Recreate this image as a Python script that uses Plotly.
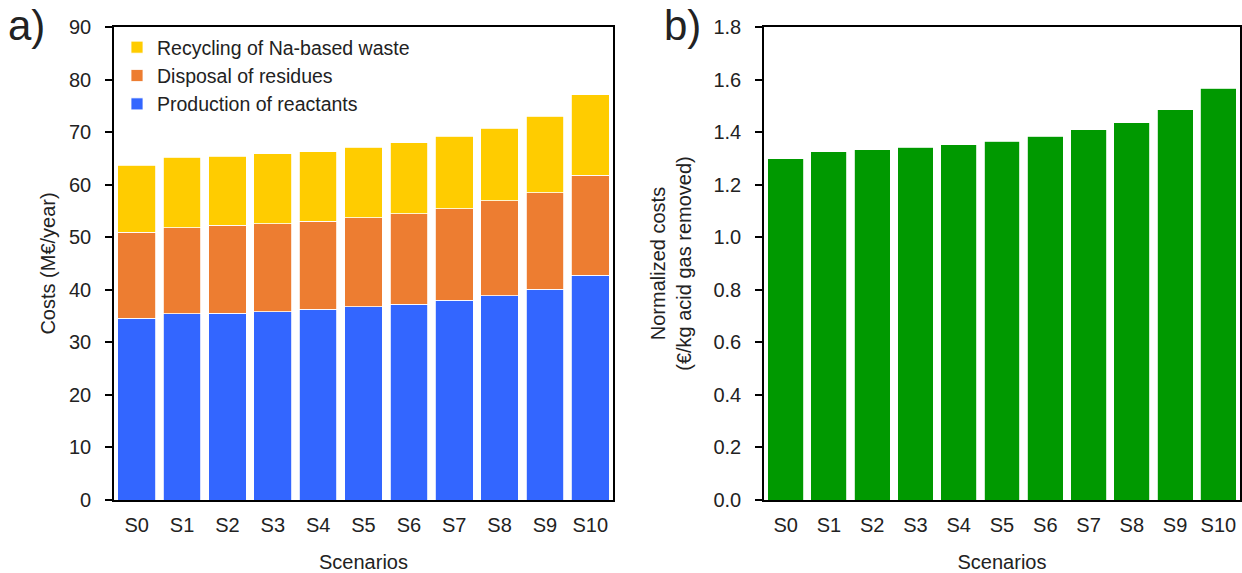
import plotly.graph_objects as go

scenarios = ["S0", "S1", "S2", "S3", "S4", "S5", "S6", "S7", "S8", "S9", "S10"]
# cumulative tops (M€/year)
production_top = [34.6, 35.4, 35.5, 35.8, 36.3, 36.8, 37.2, 38.0, 38.9, 40.1, 42.8]
disposal_top = [50.9, 51.8, 52.3, 52.6, 53.0, 53.7, 54.5, 55.4, 56.9, 58.5, 61.8]
total_top = [63.7, 65.2, 65.4, 65.9, 66.3, 67.1, 68.0, 69.2, 70.7, 73.0, 77.1]
production = production_top
disposal = [round(d - p, 2) for d, p in zip(disposal_top, production_top)]
recycling = [round(t - d, 2) for t, d in zip(total_top, disposal_top)]
normalized = [1.298, 1.326, 1.332, 1.342, 1.351, 1.365, 1.385, 1.409, 1.436, 1.485, 1.566]

FONT = "Liberation Sans, Arial, sans-serif"
W, H = 1242, 573

def px(x):
    return x / W

def py(y):
    return 1 - y / H

fig = go.Figure()
line = dict(color="white", width=0.8)
fig.add_trace(go.Bar(x=scenarios, y=production, name="Production of reactants",
                     marker=dict(color="#3366FF", line=line), xaxis="x", yaxis="y"))
fig.add_trace(go.Bar(x=scenarios, y=disposal, name="Disposal of residues",
                     marker=dict(color="#ED7D31", line=line), xaxis="x", yaxis="y"))
fig.add_trace(go.Bar(x=scenarios, y=recycling, name="Recycling of Na-based waste",
                     marker=dict(color="#FFCC00", line=line), xaxis="x", yaxis="y"))
fig.add_trace(go.Bar(x=scenarios, y=normalized, name="Normalized", showlegend=False,
                     marker=dict(color="#009900", line=line), xaxis="x2", yaxis="y2"))

axis_common = dict(showline=True, linecolor="black", linewidth=1.6, mirror=True,
                   showgrid=False, zeroline=False, automargin=False,
                   tickfont=dict(family=FONT, size=20, color="#222"))

fig.update_layout(
    width=W, height=H,
    margin=dict(l=0, r=0, t=0, b=0, pad=0),
    paper_bgcolor="white", plot_bgcolor="white",
    barmode="stack", bargap=0.17,
    font=dict(family=FONT, size=20, color="#222"),
    xaxis=dict(domain=[px(114), px(613)], anchor="y", ticks="", ticklabelstandoff=6,
               title=dict(text="Scenarios", font=dict(family=FONT, size=20), standoff=22),
               **axis_common),
    yaxis=dict(domain=[py(500), py(27)], anchor="x", range=[0, 90], dtick=10,
               ticks="outside", ticklen=7, tickcolor="black", tickwidth=1.6,
               ticklabelstandoff=10,
               title=dict(text="Costs (M€/year)", font=dict(family=FONT, size=20), standoff=8),
               **axis_common),
    xaxis2=dict(domain=[px(764), px(1240)], anchor="y2", ticks="", ticklabelstandoff=6,
                title=dict(text="Scenarios", font=dict(family=FONT, size=20), standoff=22),
                **axis_common),
    yaxis2=dict(domain=[py(500), py(27)], anchor="x2", range=[0, 1.8], dtick=0.2,
                tickformat=".1f",
                ticks="outside", ticklen=7, tickcolor="black", tickwidth=1.6,
                ticklabelstandoff=10,
                title=dict(text="Normalized costs<br>(€/kg acid gas removed)",
                           font=dict(family=FONT, size=20), standoff=16),
                **axis_common),
    legend=dict(x=px(117), y=py(28), xanchor="left", yanchor="top",
                traceorder="reversed", bgcolor="rgba(0,0,0,0)",
                font=dict(family=FONT, size=19.5, color="#222"),
                itemwidth=30, tracegroupgap=0),
    annotations=[
        dict(text="a)", x=px(6), y=py(0), xref="paper", yref="paper",
             xanchor="left", yanchor="top", showarrow=False,
             font=dict(family=FONT, size=42, color="#222")),
        dict(text="b)", x=px(662), y=py(0), xref="paper", yref="paper",
             xanchor="left", yanchor="top", showarrow=False,
             font=dict(family=FONT, size=42, color="#222")),
    ],
)

fig.write_html("out.html", config={"displayModeBar": False},
               post_script="document.body.style.margin='0';")
